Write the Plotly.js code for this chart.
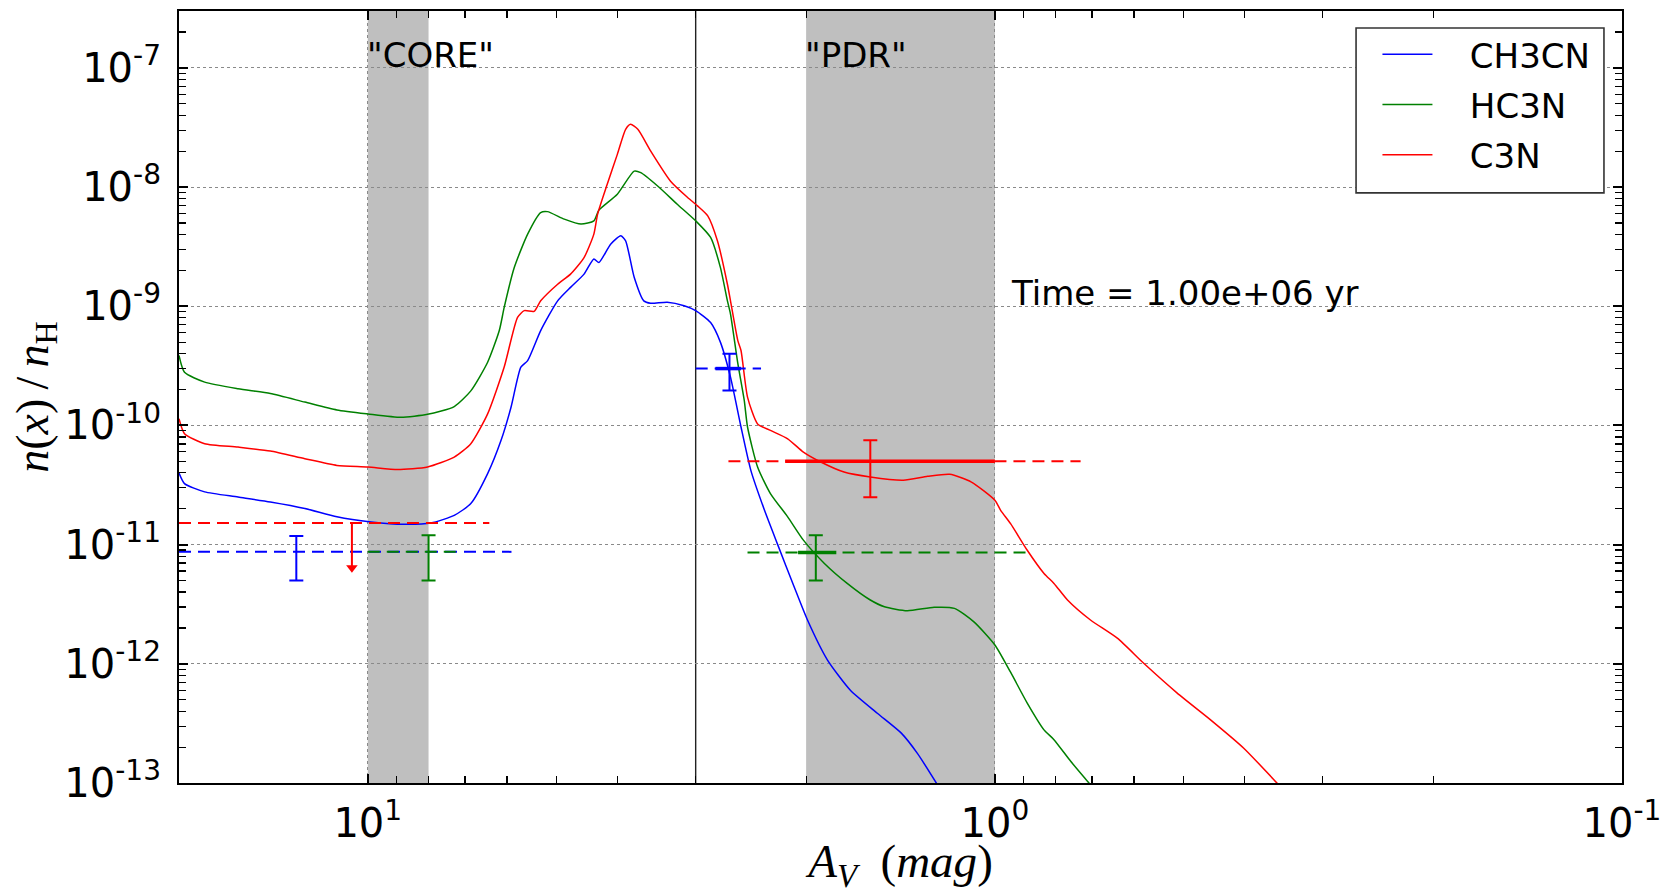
<!DOCTYPE html>
<html><head><meta charset="utf-8">
<script src="https://cdn.plot.ly/plotly-3.0.1.min.js"></script>
<style>html,body{margin:0;padding:0;background:#fff;}#chart{width:1676px;height:894px;}</style>
</head><body><div id="chart"></div>
<script>
// ---- model curves (A_V in mag, abundance n(x)/n_H) ----
const avCH3CN = [20, 19.6, 18.2, 16.1, 14.3, 12.6, 11.2, 9.88, 8.75, 7.93, 7.28, 6.85, 6.44, 6.13, 5.91, 5.70, 5.56, 5.30, 4.98, 4.75, 4.52, 4.36, 4.28, 4.10, 3.95, 3.88, 3.76, 3.63, 3.54, 3.33, 3.13, 3.00, 2.84, 2.74, 2.64, 2.54, 2.45, 2.33, 2.22, 2.09, 1.99, 1.85, 1.70, 1.54, 1.41, 1.33, 1.24, 1.20];
const abCH3CN = [3.98e-11, 3.25e-11, 2.77e-11, 2.51e-11, 2.28e-11, 2.01e-11, 1.71e-11, 1.55e-11, 1.48e-11, 1.52e-11, 1.76e-11, 2.21e-11, 3.94e-11, 7.5e-11, 1.42e-10, 3.08e-10, 3.5e-10, 6.25e-10, 1.11e-9, 1.44e-9, 1.86e-9, 2.49e-9, 2.33e-9, 3.32e-9, 3.90e-9, 3.54e-9, 1.75e-9, 1.11e-9, 1.06e-9, 1.08e-9, 1.01e-9, 9.2e-10, 7.3e-10, 5.0e-10, 2.54e-10, 9.7e-11, 4.2e-11, 1.94e-11, 1.0e-11, 4.43e-12, 2.33e-12, 1.08e-12, 6.0e-13, 3.85e-13, 2.62e-13, 1.78e-13, 1.0e-13, 7.5e-14];

const avHC3N = [20, 19.6, 18.2, 16.1, 14.3, 12.6, 11.2, 10.0, 8.85, 8.03, 7.28, 6.85, 6.44, 6.17, 6.06, 5.84, 5.56, 5.30, 5.17, 4.86, 4.57, 4.36, 4.28, 4.00, 3.76, 3.67, 3.45, 3.21, 3.00, 2.84, 2.74, 2.67, 2.64, 2.57, 2.51, 2.48, 2.39, 2.28, 2.14, 2.02, 1.87, 1.72, 1.58, 1.50, 1.38, 1.25, 1.16, 1.08, 1.00, 0.944, 0.888, 0.835, 0.805, 0.757, 0.708, 0.69];
const abHC3N = [3.86e-10, 2.79e-10, 2.31e-10, 2.03e-10, 1.85e-10, 1.57e-10, 1.35e-10, 1.25e-10, 1.17e-10, 1.24e-10, 1.44e-10, 1.95e-10, 3.39e-10, 6.25e-10, 9.77e-10, 2.11e-9, 4.03e-9, 6.11e-9, 6.22e-9, 5.38e-9, 4.89e-9, 5.21e-9, 6.40e-9, 8.71e-9, 1.36e-8, 1.32e-8, 1.02e-8, 7.18e-9, 5.21e-9, 3.78e-9, 2.12e-9, 1.11e-9, 8.6e-10, 3.31e-10, 1.62e-10, 9.7e-11, 4.48e-11, 2.68e-11, 1.71e-11, 1.09e-11, 6.95e-12, 4.73e-12, 3.43e-12, 3.01e-12, 2.79e-12, 2.98e-12, 2.92e-12, 2.25e-12, 1.44e-12, 8.5e-13, 4.68e-13, 2.79e-13, 2.31e-13, 1.52e-13, 1.0e-13, 8.5e-14];

const avC3N = [20, 19.6, 18.2, 16.1, 14.3, 12.6, 11.2, 10.0, 8.96, 8.03, 7.28, 6.85, 6.44, 6.06, 5.77, 5.63, 5.43, 5.30, 4.98, 4.75, 4.52, 4.36, 4.30, 4.15, 4.00, 3.88, 3.81, 3.71, 3.54, 3.29, 3.09, 2.98, 2.87, 2.77, 2.67, 2.64, 2.57, 2.54, 2.48, 2.39, 2.28, 2.14, 2.02, 1.895, 1.74, 1.58, 1.40, 1.28, 1.18, 1.09, 1.00, 0.979, 0.944, 0.888, 0.835, 0.805, 0.766, 0.704, 0.638, 0.579, 0.512, 0.453, 0.401, 0.355, 0.345];
const abC3N = [1.14e-10, 8.53e-11, 7.03e-11, 6.58e-11, 6.10e-11, 5.26e-11, 4.62e-11, 4.48e-11, 4.26e-11, 4.48e-11, 5.43e-11, 7.03e-11, 1.25e-10, 3.09e-10, 8.07e-10, 9.18e-10, 9.06e-10, 1.11e-9, 1.53e-9, 1.86e-9, 2.56e-9, 4.03e-9, 5.93e-9, 1.06e-8, 1.88e-8, 3.05e-8, 3.36e-8, 3.05e-8, 2.01e-8, 1.12e-8, 8.17e-9, 6.95e-9, 5.73e-9, 3.54e-9, 1.53e-9, 1.11e-9, 5.14e-10, 4.25e-10, 1.73e-10, 1.03e-10, 9.08e-11, 7.73e-11, 5.97e-11, 4.93e-11, 4.06e-11, 3.69e-11, 3.47e-11, 3.74e-11, 3.89e-11, 3.35e-11, 2.36e-11, 1.94e-11, 1.50e-11, 8.97e-12, 5.73e-12, 4.73e-12, 3.43e-12, 2.33e-12, 1.64e-12, 1.01e-12, 5.68e-13, 3.39e-13, 1.96e-13, 1.0e-13, 8.5e-14];

const speciesNames = ['CH3CN', 'HC3N', 'C3N'];
const speciesColors = ['#0000ff', '#008000', '#ff0000'];

// ---- observations ----
const obsSpecies = [0, 1, 0, 1, 2];          // index into speciesNames
const obsX       = [13, 8.0, 2.65, 1.93, 1.58];
const obsY       = [8.7e-12, 8.7e-12, 3.0e-10, 8.6e-12, 5.0e-11];
const obsYHigh   = [1.18e-11, 1.2e-11, 4.0e-10, 1.2e-11, 7.5e-11];
const obsYLow    = [5.0e-12, 5.0e-12, 1.96e-10, 5.0e-12, 2.5e-11];
const obsXHigh   = [null, null, 2.79, 2.06, 2.16];
const obsXLow    = [null, null, 2.54, 1.79, 1.0];
const obsSpanFrom = [20, 10, 3.0, 2.48, 2.66];
const obsSpanTo   = [5.9, 7.2, 2.36, 0.88, 0.73];

// upper limit (C3N in core)
const limSpecies = 2;
const limX = 10.6;
const limY = 1.52e-11;
const limTip = 6.4e-12;
const limSpanFrom = 20;
const limSpanTo = 6.4;

// ---- regions / labels ----
const regionNames = ['"CORE"', '"PDR"'];
const regionStart = [10, 2];
const regionEnd   = [8, 1];
const regionLabelY = 1e-7;
const boundaryAV = 3;
const timeLabel = 'Time = 1.00e+06 yr';
const timeLabelX = 0.95;
const timeLabelY = 1e-9;

// ---- axes ----
const xMax = 20, xMin = 0.1;
const yMin = 1e-13, yMax = 3e-7;
const xTickVals = [10, 1, 0.1];
const xTickText = ['10<sup>1</sup>', '10<sup>0</sup>', '10<sup>-1</sup>'];
const yTickVals = [1e-13, 1e-12, 1e-11, 1e-10, 1e-9, 1e-8, 1e-7];
const yTickText = ['10<sup>-13</sup>', '10<sup>-12</sup>', '10<sup>-11</sup>', '10<sup>-10</sup>', '10<sup>-9</sup>', '10<sup>-8</sup>', '10<sup>-7</sup>'];

function minorLog(lo, hi) {
  const out = [];
  for (let e = Math.floor(Math.log10(lo)); e <= Math.ceil(Math.log10(hi)); e++) {
    for (let k = 2; k <= 9; k++) {
      const v = k * Math.pow(10, e);
      if (v > lo * 1.0001 && v < hi * 0.9999) out.push(v);
    }
  }
  return out;
}

const FONT = 'DejaVu Sans, Verdana, sans-serif';
const traces = [];
const curveX = [avCH3CN, avHC3N, avC3N];
const curveY = [abCH3CN, abHC3N, abC3N];
for (let s = 0; s < 3; s++) {
  traces.push({
    x: curveX[s], y: curveY[s], mode: 'lines', name: '\u00a0\u00a0\u00a0' + speciesNames[s], legendgroup: 'g' + s,
    line: {color: speciesColors[s], width: 1.5, shape: 'spline', smoothing: 0.6}, hoverinfo: 'x+y'
  });
}
for (let i = 0; i < obsX.length; i++) {
  const c = speciesColors[obsSpecies[i]];
  traces.push({
    x: [obsSpanFrom[i], obsSpanTo[i]], y: [obsY[i], obsY[i]], mode: 'lines',
    line: {color: c, width: 2, dash: '12px,7px'}, showlegend: false, hoverinfo: 'skip'
  });
  const t = {
    x: [obsX[i]], y: [obsY[i]], mode: 'markers', showlegend: false,
    marker: {color: c, size: 1},
    error_y: {type: 'data', symmetric: false, array: [obsYHigh[i] - obsY[i]], arrayminus: [obsY[i] - obsYLow[i]], color: c, thickness: 2, width: 7}
  };
  if (obsXHigh[i] !== null) {
    t.error_x = {type: 'data', symmetric: false, array: [obsXHigh[i] - obsX[i]], arrayminus: [obsX[i] - obsXLow[i]], color: c, thickness: 3.5, width: 0};
  }
  traces.push(t);
}
const limColor = speciesColors[limSpecies];
traces.push({
  x: [limSpanFrom, limSpanTo], y: [limY, limY], mode: 'lines',
  line: {color: limColor, width: 2, dash: '12px,7px'}, showlegend: false, hoverinfo: 'skip'
});
traces.push({
  x: [limX, limX], y: [limY, limTip], mode: 'lines',
  line: {color: limColor, width: 2}, showlegend: false, hoverinfo: 'skip'
});
traces.push({
  x: [limX], y: [limTip], mode: 'markers',
  marker: {symbol: 'triangle-down', size: 10, color: limColor, line: {width: 0}}, showlegend: false, hoverinfo: 'skip'
});

const shapes = [];
for (let r = 0; r < regionNames.length; r++) {
  shapes.push({type: 'rect', xref: 'x', yref: 'paper', x0: regionStart[r], x1: regionEnd[r], y0: 0, y1: 1,
    fillcolor: '#bfbfbf', line: {width: 0}, layer: 'below'});
}
shapes.push({type: 'line', xref: 'x', yref: 'paper', x0: boundaryAV, x1: boundaryAV, y0: 0, y1: 1,
  line: {color: '#222', width: 1.4}, layer: 'below'});
// legend frame
shapes.push({type: 'rect', xref: 'paper', yref: 'paper', x0: 0.8157, x1: 0.9875, y0: 0.7644, y1: 0.978,
  fillcolor: 'white', line: {color: '#333', width: 1.6}, layer: 'above'});

const annotations = [];
for (let r = 0; r < regionNames.length; r++) {
  annotations.push({x: Math.log10(regionStart[r]), y: Math.log10(regionLabelY), xref: 'x', yref: 'y', text: regionNames[r],
    showarrow: false, xanchor: 'left', yanchor: 'bottom', yshift: -9, xshift: -3, font: {family: FONT, size: 34, color: 'black'}});
}
annotations.push({x: Math.log10(timeLabelX), y: Math.log10(timeLabelY), xref: 'x', yref: 'y', text: timeLabel,
  showarrow: false, xanchor: 'left', yanchor: 'bottom', yshift: -9, font: {family: FONT, size: 34, color: 'black'}});

const axisCommon = {
  type: 'log', showline: true, linecolor: 'black', linewidth: 2, mirror: 'allticks',
  ticks: 'inside', ticklen: 9, tickwidth: 2, tickcolor: 'black',
  showgrid: true, gridcolor: '#8a8a8a', griddash: 'dot', gridwidth: 1, zeroline: false,
  tickfont: {family: FONT, size: 40, color: 'black'}, tickmode: 'array'
};

const layout = {
  width: 1676, height: 894,
  margin: {l: 178.6, r: 54.4, t: 10.7, b: 110.7},
  paper_bgcolor: 'white', plot_bgcolor: 'white',
  showlegend: true,
  xaxis: Object.assign({}, axisCommon, {
    range: [Math.log10(xMax), Math.log10(xMin)],
    tickvals: xTickVals, ticktext: xTickText, ticklabelstandoff: 4,
    minor: {tickmode: 'array', tickvals: minorLog(xMin, xMax), ticks: 'inside', ticklen: 7, tickwidth: 1.2, tickcolor: 'black', showgrid: false},
    title: {text: '<i>A<sub>V</sub></i>\u00a0\u00a0(<i>mag</i>)', font: {family: 'Liberation Serif, serif', size: 47, color: 'black'}, standoff: 20}
  }),
  yaxis: Object.assign({}, axisCommon, {
    range: [Math.log10(yMin), Math.log10(yMax)],
    tickvals: yTickVals, ticktext: yTickText, ticklabelstandoff: 8,
    minor: {tickmode: 'array', tickvals: minorLog(yMin, yMax), ticks: 'inside', ticklen: 7, tickwidth: 1.2, tickcolor: 'black', showgrid: false},
    title: {text: '<i>n</i>(<i>x</i>)\u2009/\u2009<i>n</i><sub>H</sub>\u00a0\u00a0\u00a0\u00a0\u00a0\u00a0', font: {family: 'Liberation Serif, serif', size: 46, color: 'black'}, standoff: 0}
  }),
  legend: {x: 0.9816, xanchor: 'right', y: 0.981, yanchor: 'top', bgcolor: 'rgba(0,0,0,0)', borderwidth: 0,
    font: {family: FONT, size: 34, color: 'black'}, itemwidth: 50, tracegroupgap: 3},
  shapes: shapes, annotations: annotations
};

Plotly.newPlot('chart', traces, layout, {displayModeBar: false, staticPlot: true});
</script>
</body></html>
